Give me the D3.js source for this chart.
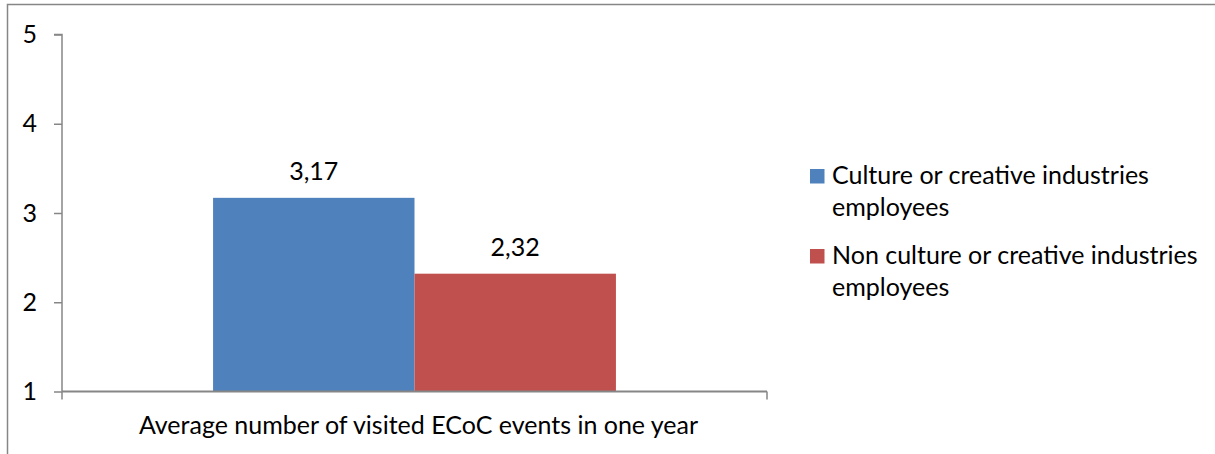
<!DOCTYPE html>
<html>
<head>
<meta charset="utf-8">
<script src="https://cdn.jsdelivr.net/npm/d3@7"></script>
<style>
  html, body { margin: 0; padding: 0; background: #fff; }
  svg { display: block; }
  text { font-family: Lato, "Open Sans", sans-serif; fill: #000; }
</style>
</head>
<body>
<svg id="chart" width="1215" height="454"></svg>
<script>
// Chart data
const categories = ["Average number of visited ECoC events in one year"];
const seriesNames = [
  ["Culture or creative industries", "employees"],
  ["Non culture or creative industries", "employees"]
];
const seriesValues = [3.17, 2.32];
const seriesColors = ["#4f81bd", "#c0504d"];
const yTicks = [1, 2, 3, 4, 5];
const valueLabels = ["3,17", "2,32"];

const svg = d3.select("#chart");
const axisColor = "#868686";
const fontSize = 25;

// outer chart frame (right and bottom edges fall outside the view)
svg.append("rect")
  .attr("x", 7.5).attr("y", 4.5)
  .attr("width", 1300).attr("height", 600)
  .attr("fill", "none")
  .attr("stroke", axisColor)
  .attr("stroke-width", 1.5);

const plot = { left: 62, right: 767, top: 34.5, bottom: 391.5 };

const y = d3.scaleLinear().domain([1, 5]).range([plot.bottom, plot.top]);
const x = d3.scaleBand().domain(categories).range([plot.left, plot.right]).padding(0);

// two bars fill 2 of 3.5 bar-widths in the band (150% gap split on both sides)
const barW = x.bandwidth() / 3.5;
const innerStart = x(categories[0]) + 0.75 * barW;
const xSeries = d3.scaleBand()
  .domain(d3.range(seriesValues.length))
  .range([innerStart, innerStart + 2 * barW])
  .padding(0);

// bars
svg.append("g").selectAll("rect")
  .data(seriesValues)
  .join("rect")
  .attr("x", (d, i) => xSeries(i))
  .attr("width", xSeries.bandwidth())
  .attr("y", d => y(d))
  .attr("height", d => y(1) - y(d))
  .attr("fill", (d, i) => seriesColors[i]);

// value labels
svg.append("g").selectAll("text")
  .data(seriesValues)
  .join("text")
  .attr("x", (d, i) => xSeries(i) + xSeries.bandwidth() / 2)
  .attr("y", d => y(d) - 18)
  .attr("text-anchor", "middle")
  .style("font-size", fontSize + "px")
  .text((d, i) => valueLabels[i]);

// y axis
const yAxis = svg.append("g")
  .attr("transform", `translate(${plot.left},0)`)
  .call(d3.axisLeft(y).tickValues(yTicks).tickSize(8).tickPadding(17).tickFormat(d3.format("d")));
yAxis.select(".domain").attr("stroke", axisColor).attr("stroke-width", 1.5)
  .attr("d", `M-8,${plot.top}H0V${plot.bottom}`);
yAxis.selectAll(".tick line").attr("stroke", axisColor).attr("stroke-width", 1.5);
yAxis.selectAll(".tick text")
  .style("font-size", fontSize + "px")
  .style("font-family", "Lato, sans-serif")
  .attr("fill", "#000");

// x axis baseline with boundary ticks
const xAxisG = svg.append("g");
xAxisG.append("path")
  .attr("d", `M${plot.left},${plot.bottom}H${plot.right}`)
  .attr("stroke", axisColor).attr("stroke-width", 2).attr("fill", "none");
xAxisG.selectAll("line.edge")
  .data([plot.left, plot.right])
  .join("line")
  .attr("x1", d => d).attr("x2", d => d)
  .attr("y1", plot.bottom).attr("y2", plot.bottom + 8)
  .attr("stroke", axisColor).attr("stroke-width", 1.5);

// category label
svg.append("g").selectAll("text")
  .data(categories)
  .join("text")
  .attr("x", d => x(d) + x.bandwidth() / 2 + 4)
  .attr("y", 434)
  .attr("text-anchor", "middle")
  .style("font-size", fontSize + "px")
  .text(d => d);

// legend
const legend = svg.append("g").attr("transform", "translate(810,0)");
const legendTops = [169, 249];
seriesNames.forEach((lines, i) => {
  const g = legend.append("g").attr("transform", `translate(0,${legendTops[i]})`);
  g.append("rect").attr("width", 14.5).attr("height", 14.5).attr("fill", seriesColors[i]);
  g.selectAll("text")
    .data(lines)
    .join("text")
    .attr("x", 22)
    .attr("y", (d, j) => 15 + j * 32)
    .style("font-size", fontSize + "px")
    .text(d => d);
});
</script>
</body>
</html>
